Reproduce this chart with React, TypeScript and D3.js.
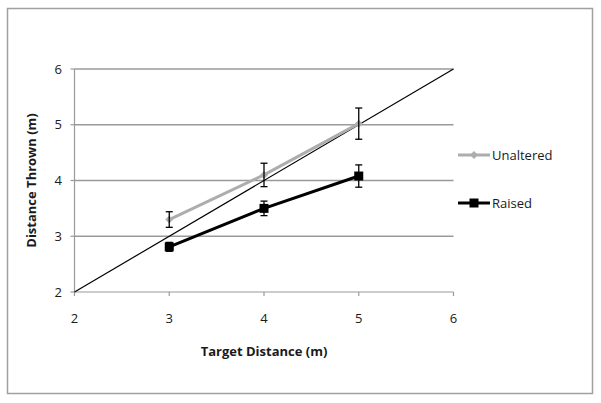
import React from "react";
import * as d3 from "d3";

const targets = [3, 4, 5];
const unaltered = [3.3, 4.1, 5.02];
const unalteredErr = [0.14, 0.21, 0.28];
const raised = [2.81, 3.5, 4.08];
const raisedErr = [0.08, 0.13, 0.2];
const xTicks = [2, 3, 4, 5, 6];
const yTicks = [2, 3, 4, 5, 6];
const seriesNames = ["Unaltered", "Raised"];

const W = 601, H = 403;
const font = "'Open Sans', 'Liberation Sans', sans-serif";

export default function App() {
  const x = d3.scaleLinear().domain([2, 6]).range([74.5, 453.5]);
  const y = d3.scaleLinear().domain([2, 6]).range([292, 69]);
  const line = d3.line<[number, number]>().x((d) => x(d[0])).y((d) => y(d[1]));
  const uPts = targets.map((t, i) => [t, unaltered[i]] as [number, number]);
  const rPts = targets.map((t, i) => [t, raised[i]] as [number, number]);
  const gray = "#adadad";
  const errBar = (t: number, v: number, e: number, key: string) => (
    <g key={key} stroke="#000" strokeWidth={1.3}>
      <line x1={x(t)} x2={x(t)} y1={y(v + e)} y2={y(v - e)} />
      <line x1={x(t) - 3.5} x2={x(t) + 3.5} y1={y(v + e)} y2={y(v + e)} />
      <line x1={x(t) - 3.5} x2={x(t) + 3.5} y1={y(v - e)} y2={y(v - e)} />
    </g>
  );
  const diamond = (cx: number, cy: number, key: string) => (
    <path key={key} d={`M${cx},${cy - 4}L${cx + 4},${cy}L${cx},${cy + 4}L${cx - 4},${cy}Z`} fill={gray} />
  );
  return (
    <svg width={W} height={H} style={{ position: "absolute", left: 0, top: 0 }}>
      <rect x={0} y={0} width={W} height={H} fill="#fff" />
      <rect x={7.5} y={8.5} width={585} height={385} fill="none" stroke="#a0a0a0" strokeWidth={1.5} />
      {yTicks.filter((v) => v > 2).map((v) => (
        <line key={"g" + v} x1={x(2)} x2={x(6)} y1={y(v)} y2={y(v)} stroke="#9a9a9a" strokeWidth={1.5} />
      ))}
      <line x1={x(2)} x2={x(2)} y1={y(6)} y2={y(2)} stroke="#9a9a9a" strokeWidth={1.2} />
      <line x1={x(2)} x2={x(6)} y1={y(2)} y2={y(2)} stroke="#9a9a9a" strokeWidth={1.2} />
      {yTicks.map((v) => (
        <g key={"yt" + v}>
          <line x1={x(2) - 4} x2={x(2)} y1={y(v)} y2={y(v)} stroke="#9a9a9a" strokeWidth={1.2} />
          <text x={62} y={y(v)} dy="0.35em" textAnchor="end" fontFamily={font} fontSize={13} fill="#1a1a1a">{v}</text>
        </g>
      ))}
      {xTicks.map((v) => (
        <g key={"xt" + v}>
          <line x1={x(v)} x2={x(v)} y1={y(2)} y2={y(2) + 4} stroke="#9a9a9a" strokeWidth={1.2} />
          <text x={x(v)} y={323} textAnchor="middle" fontFamily={font} fontSize={13} fill="#1a1a1a">{v}</text>
        </g>
      ))}
      <path d={line([[2, 2], [6, 6]]) || ""} stroke="#000" strokeWidth={1.2} fill="none" />
      <path d={line(uPts) || ""} stroke={gray} strokeWidth={3} fill="none" />
      {uPts.map((p, i) => diamond(x(p[0]), y(p[1]), "ud" + i))}
      {targets.map((t, i) => errBar(t, unaltered[i], unalteredErr[i], "ue" + i))}
      <path d={line(rPts) || ""} stroke="#000" strokeWidth={3} fill="none" />
      {rPts.map((p, i) => (
        <rect key={"rs" + i} x={x(p[0]) - 4.5} y={y(p[1]) - 4.5} width={9} height={9} fill="#000" />
      ))}
      {targets.map((t, i) => errBar(t, raised[i], raisedErr[i], "re" + i))}
      <line x1={458} x2={490} y1={155} y2={155} stroke={gray} strokeWidth={3} />
      {diamond(474, 155, "ld")}
      <text x={492} y={155} dy="0.35em" fontFamily={font} fontSize={13} fill="#1a1a1a">{seriesNames[0]}</text>
      <line x1={458} x2={490} y1={203} y2={203} stroke="#000" strokeWidth={3} />
      <rect x={469.5} y={198.5} width={9} height={9} fill="#000" />
      <text x={492} y={203} dy="0.35em" fontFamily={font} fontSize={13} fill="#1a1a1a">{seriesNames[1]}</text>
      <text x={x(4)} y={356} textAnchor="middle" fontFamily={font} fontWeight="bold" fontSize={13} fill="#1a1a1a">Target Distance (m)</text>
      <text transform={`translate(36, ${y(4)}) rotate(-90)`} textAnchor="middle" fontFamily={font} fontWeight="bold" fontSize={13} fill="#1a1a1a">Distance Thrown (m)</text>
    </svg>
  );
}
